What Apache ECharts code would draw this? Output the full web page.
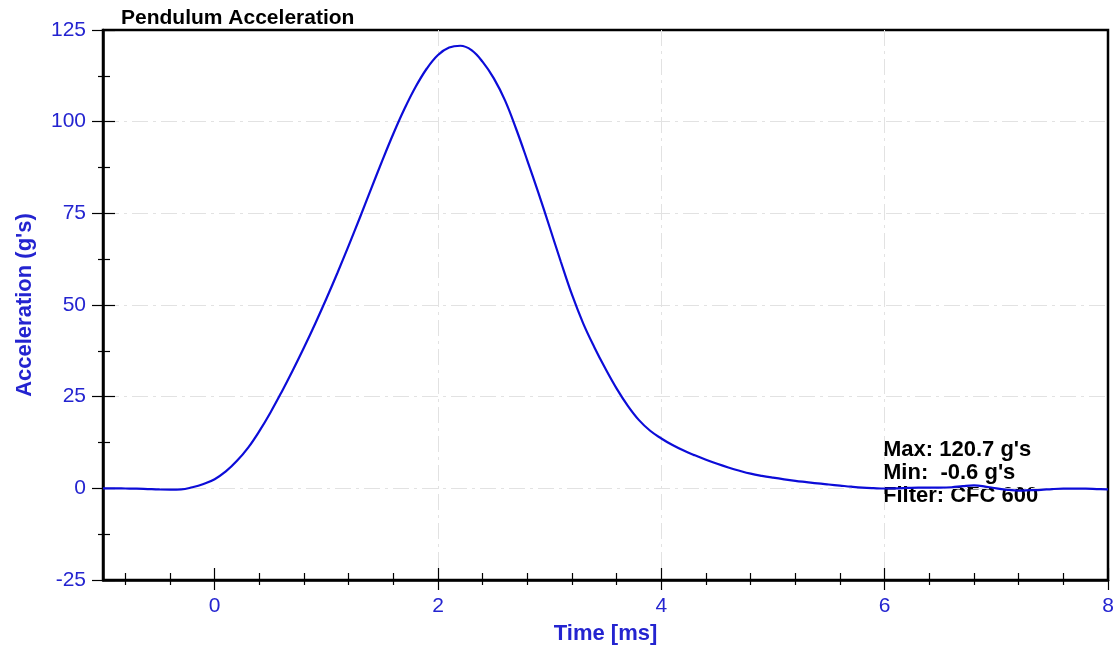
<!DOCTYPE html>
<html>
<head>
<meta charset="utf-8">
<script src="https://cdn.jsdelivr.net/npm/echarts@6/dist/echarts.min.js"></script>
<style>
  html, body { margin: 0; padding: 0; background: #fff; }
  #chart { width: 1120px; height: 650px; }
</style>
</head>
<body>
<div id="chart"></div>
<script>
// time [ms]
const timeMs = [
  -1.0, -0.9, -0.8, -0.7, -0.6, -0.5, -0.4, -0.3, -0.2, -0.1,
  0.0, 0.1, 0.2, 0.3, 0.4, 0.5, 0.6, 0.7, 0.8, 0.9,
  1.0, 1.1, 1.2, 1.3, 1.4, 1.5, 1.6, 1.7, 1.8, 1.9,
  2.0, 2.1, 2.2, 2.3, 2.4, 2.5, 2.6, 2.7, 2.8, 2.9,
  3.0, 3.1, 3.2, 3.3, 3.4, 3.5, 3.6, 3.7, 3.8, 3.9,
  4.0, 4.1, 4.2, 4.3, 4.4, 4.5, 4.6, 4.7, 4.8, 4.9,
  5.0, 5.1, 5.2, 5.3, 5.4, 5.5, 5.6, 5.7, 5.8, 5.9,
  6.0, 6.1, 6.2, 6.3, 6.4, 6.5, 6.6, 6.7, 6.8, 6.9,
  7.0, 7.1, 7.2, 7.3, 7.4, 7.5, 7.6, 7.7, 7.8, 7.9,
  8.0
];
// acceleration [g's]
const accelG = [
  0.0, 0.0, -0.05, -0.1, -0.2, -0.3, -0.35, -0.3, 0.3, 1.2,
  2.5, 4.6, 7.5, 11.1, 15.6, 20.7, 26.3, 32.2, 38.4, 44.9,
  51.7, 58.8, 66.2, 73.8, 81.6, 89.3, 96.7, 103.5, 109.5, 114.5,
  118.2, 120.2, 120.7, 119.5, 116.3, 111.8, 105.8, 98.0, 89.4, 80.5,
  71.2, 61.8, 52.8, 45.0, 38.5, 32.6, 27.2, 22.5, 18.6, 15.7,
  13.6, 11.8, 10.3, 9.0, 7.8, 6.7, 5.7, 4.8, 4.0, 3.4,
  2.9, 2.45, 2.05, 1.7, 1.35, 1.05, 0.75, 0.45, 0.2, 0.05,
  -0.05, 0.0, 0.1, 0.2, 0.2, 0.2, 0.3, 0.6, 0.8, 0.5,
  0.0, -0.4, -0.6, -0.5, -0.4, -0.2, -0.1, -0.1, -0.1, -0.2,
  -0.3
];
const xMajorTicks = [0, 2, 4, 6, 8];
const xMinorTicks = [-0.8, -0.4, 0.4, 0.8, 1.2, 1.6, 2.4, 2.8, 3.2, 3.6,
  4.4, 4.8, 5.2, 5.6, 6.4, 6.8, 7.2, 7.6];
const infoLines = ["Max: 120.7 g's", "Min:  -0.6 g's", 'Filter: CFC 600'];

const FONT = 'Liberation Sans, Arial, sans-serif';
const BLUE_TXT = '#2424d0';
const GRID_DASH = { color: '#e2e2e2', width: 1, type: [16, 5, 3, 5] };
const TICK_LINE = { color: '#000', width: 1.2 };
const PLOT = { left: 103, right: 12, top: 30, bottom: 70 };

const points = timeMs.map((t, i) => [t, accelG[i]]);

// extra grids on top of the plot, only used to draw ticks that cross the axis
function tickX(grid, values, inside, length) {
  return {
    type: 'value', gridIndex: grid, min: -1, max: 8,
    axisLine: { show: false, onZero: false },
    axisLabel: { show: false },
    splitLine: { show: false },
    axisTick: { show: true, inside: inside, length: length, customValues: values, lineStyle: TICK_LINE }
  };
}
function hiddenY(grid) {
  return { type: 'value', gridIndex: grid, min: -25, max: 125, show: false };
}

const chart = echarts.init(document.getElementById('chart'));
chart.setOption({
  animation: false,
  title: {
    text: 'Pendulum Acceleration',
    left: 116, top: 3,
    textStyle: { fontFamily: FONT, fontSize: 21, fontWeight: 'bold', color: '#000' }
  },
  grid: [
    Object.assign({ show: true, borderColor: '#000', borderWidth: 2.5, backgroundColor: 'transparent' }, PLOT),
    Object.assign({}, PLOT),
    Object.assign({}, PLOT),
    Object.assign({}, PLOT)
  ],
  xAxis: [
    {
      type: 'value', gridIndex: 0, min: -1, max: 8, position: 'bottom',
      name: 'Time [ms]', nameLocation: 'middle', nameGap: 43,
      nameTextStyle: { fontFamily: FONT, fontSize: 22, fontWeight: 'bold', color: BLUE_TXT },
      axisLine: { show: true, onZero: false, lineStyle: { color: '#000', width: 2.5 } },
      axisLabel: { customValues: xMajorTicks, margin: 16,
        fontFamily: FONT, fontSize: 21, color: BLUE_TXT },
      axisTick: { show: true, length: 10, customValues: xMajorTicks, lineStyle: TICK_LINE },
      splitLine: { show: true, showMinLine: false, showMaxLine: false, lineStyle: GRID_DASH }
    },
    tickX(1, xMajorTicks, true, 12),
    tickX(2, xMinorTicks, true, 7),
    tickX(3, xMinorTicks, false, 5)
  ],
  yAxis: [
    {
      type: 'value', gridIndex: 0, min: -25, max: 125, interval: 25,
      name: "Acceleration (g's)", nameLocation: 'middle', nameGap: 67,
      nameTextStyle: { fontFamily: FONT, fontSize: 22, fontWeight: 'bold', color: BLUE_TXT },
      axisLine: { show: true, onZero: false, lineStyle: { color: '#000', width: 2.5 } },
      axisLabel: { margin: 17, fontFamily: FONT, fontSize: 21, color: BLUE_TXT },
      axisTick: { show: true, length: 11, lineStyle: TICK_LINE },
      minorTick: { show: true, splitNumber: 2, length: 5, lineStyle: TICK_LINE },
      splitLine: { show: true, showMinLine: false, showMaxLine: false, lineStyle: GRID_DASH }
    },
    {
      type: 'value', gridIndex: 1, min: -25, max: 125, interval: 25,
      axisLine: { show: false, onZero: false },
      axisLabel: { show: false },
      splitLine: { show: false },
      axisTick: { show: true, inside: true, length: 12, lineStyle: TICK_LINE },
      minorTick: { show: true, splitNumber: 2, length: 7, lineStyle: TICK_LINE }
    },
    hiddenY(2),
    hiddenY(3)
  ],
  graphic: infoLines.map((s, i) => ({
    type: 'text', left: 883, top: 439 + i * 23,
    style: { text: s, fontFamily: FONT, fontSize: 22, fontWeight: 'bold', fill: '#000' }
  })),
  series: [{
    type: 'line',
    xAxisIndex: 0, yAxisIndex: 0,
    data: points,
    showSymbol: false,
    smooth: 0.4,
    lineStyle: { color: '#0c0cd8', width: 2.2 },
    z: 3
  }]
});
</script>
</body>
</html>
